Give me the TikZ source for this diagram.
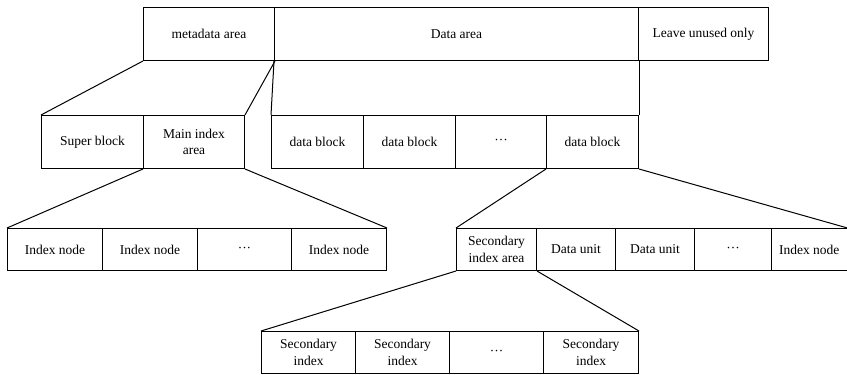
\documentclass[tikz,border=0pt]{standalone}
\usepackage{fontspec}
\setmainfont{Liberation Serif}
\newcommand{\gapdots}{\raisebox{-2pt}{\textperiodcentered\textperiodcentered\textperiodcentered}}
\begin{document}
\begin{tikzpicture}[x=1pt,y=-1pt,
  cell/.style={draw, line width=1pt, anchor=north west, inner sep=1pt,
    align=center, font=\fontsize{13.5}{16.5}\selectfont},
  tall/.style={cell, minimum height=53pt},
  short/.style={cell, minimum height=42pt},
  link/.style={line width=1pt}]
\useasboundingbox (0,0) rectangle (847,375);

% top level layout
\node[tall, minimum width=131pt] (meta)  at (143,7) {metadata area};
\node[tall, minimum width=364pt] (data)  at (274,7) {Data area};
\node[tall, minimum width=130pt] (spare) at (638,7) {Leave unused only};

% metadata area split
\node[tall, minimum width=102pt] (super) at (41,115)  {Super block};
\node[tall, minimum width=101pt] (main)  at (143,115) {Main index\\area};

% data blocks
\node[tall, minimum width=92pt] (db1) at (271,115) {data block};
\node[tall, minimum width=92pt] (db2) at (363,115) {data block};
\node[tall, minimum width=91pt] (db3) at (455,115) {\gapdots};
\node[tall, minimum width=92pt] (db4) at (546,115) {data block};

% index nodes of the main index area
\node[short, minimum width=95pt] (idx1) at (7,228)   {Index node};
\node[short, minimum width=95pt] (idx2) at (102,228) {Index node};
\node[short, minimum width=94pt] (idx3) at (197,228) {\gapdots};
\node[short, minimum width=95pt] (idx4) at (291,228) {Index node};

% contents of a data block
\node[short, minimum width=80pt] (sec1) at (456,228) {Secondary\\index area};
\node[short, minimum width=79pt] (sec2) at (536,228) {Data unit};
\node[short, minimum width=79pt] (sec3) at (615,228) {Data unit};
\node[short, minimum width=77pt] (sec4) at (694,228) {\gapdots};
\node[short, minimum width=75.5pt] (sec5) at (771,228) {Index node};

% secondary index area split
\node[short, minimum width=94pt] (si1) at (261,331) {Secondary\\index};
\node[short, minimum width=94pt] (si2) at (355,331) {Secondary\\index};
\node[short, minimum width=94pt] (si3) at (449,331) {\gapdots};
\node[short, minimum width=95pt] (si4) at (543,331) {Secondary\\index};

% expansion lines
\draw[link] (meta.south west) -- (super.north west);
\draw[link] (meta.south east) -- (main.north east);
\draw[link] (data.south west) -- (db1.north west);
\draw[link] (data.south east) -- (db4.north east);
\draw[link] (main.south west) -- (idx1.north west);
\draw[link] (main.south east) -- (idx4.north east);
\draw[link] (db4.south west) -- (sec1.north west);
\draw[link] (db4.south east) -- (sec5.north east);
\draw[link] (sec1.south west) -- (si1.north west);
\draw[link] (sec1.south east) -- (si4.north east);
\end{tikzpicture}
\end{document}
